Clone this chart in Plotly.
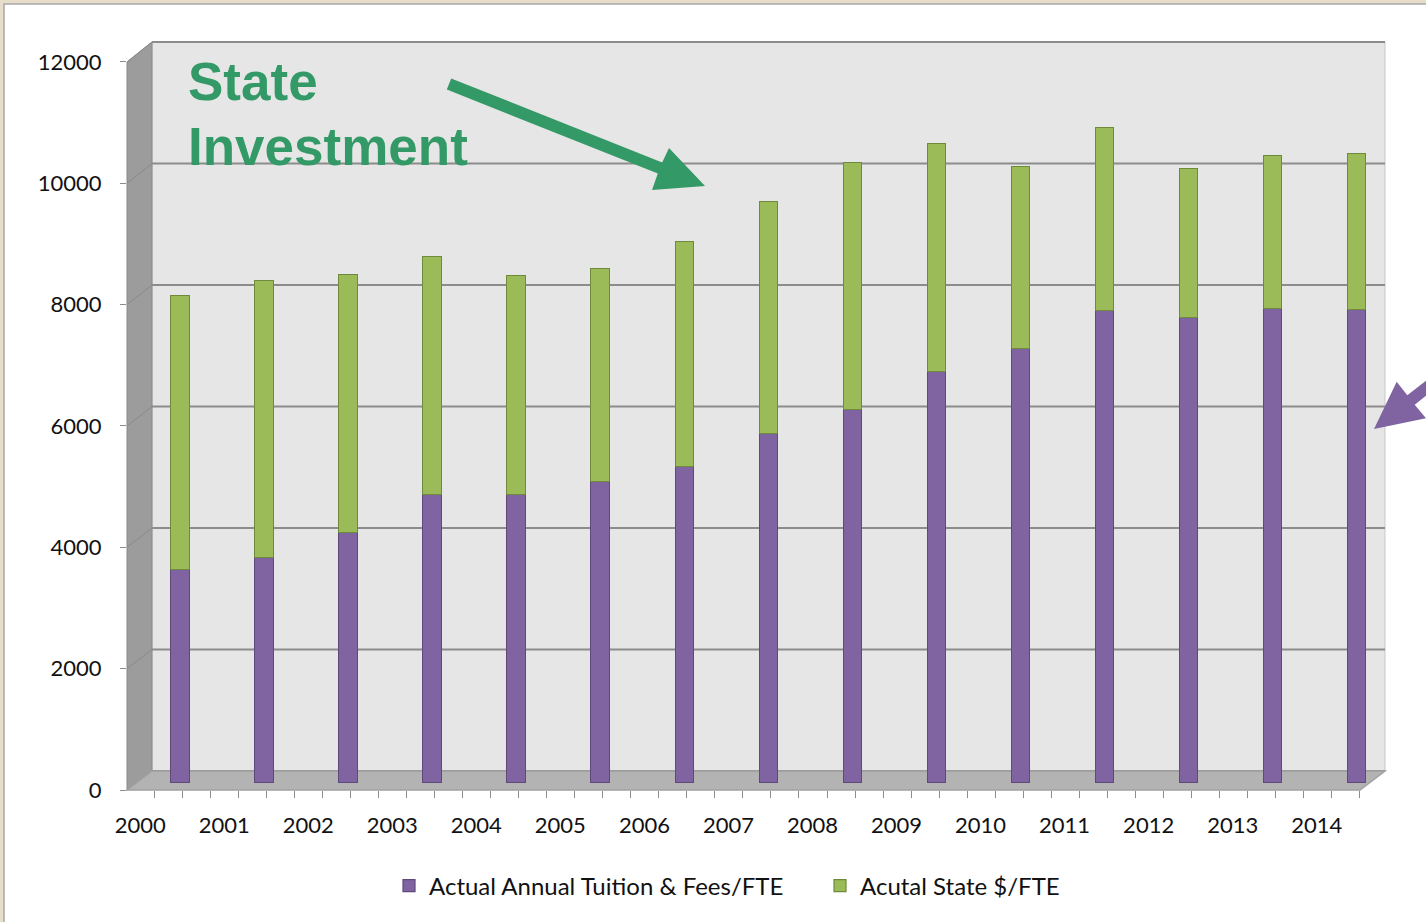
import plotly.graph_objects as go

# ---------------- data ----------------
years = ["2000", "2001", "2002", "2003", "2004", "2005", "2006", "2007",
         "2008", "2009", "2010", "2011", "2012", "2013", "2014"]
tuition = [3500, 3700, 4110, 4740, 4740, 4960, 5200, 5745,
           6140, 6770, 7145, 7770, 7650, 7805, 7790]
state = [4515, 4570, 4260, 3915, 3615, 3500, 3715, 3825,
         4065, 3750, 2995, 3010, 2455, 2520, 2565]
y_ticks = [0, 2000, 4000, 6000, 8000, 10000, 12000]
series_names = ["Actual Annual Tuition & Fees/FTE", "Acutal State $/FTE"]
annotation_lines = ["State", "Investment"]

# ---------------- styling / geometry ----------------
W, H = 1426, 922
L, R, T, B = 127, 1385, 42, 790          # plot area in px
PURPLE, PURPLE_D = "#8064A2", "#5F497A"
GREEN, GREEN_D = "#9BBB59", "#6E8A3A"
ARROW_GREEN = "#339966"
FONT = "Lato, 'Open Sans', sans-serif"

cat_px = 84.04                            # px per category
first_center = 180.5                      # px of first bar centre
x_lo = -(first_center - L) / cat_px
x_hi = x_lo + (R - L) / cat_px

bar_zero_px = 782.7
px_per_unit = 0.0607
y_lo = -(B - bar_zero_px) / px_per_unit
y_hi = y_lo + (B - T) / px_per_unit


def px(xp):
    return (xp - L) / (R - L)


def py(yp):
    return (B - yp) / (B - T)


def y_front(v):
    return 790 - v * 0.06067


def y_back(v):
    return 771 - v * 0.06075


def to_path(points):
    s = "M " + " L ".join(f"{px(a):.5f},{py(b):.5f}" for a, b in points) + " Z"
    return s


xs = list(range(len(years)))

fig = go.Figure()
fig.add_trace(go.Bar(x=xs, y=tuition, name=series_names[0], width=0.22,
                     marker=dict(color=PURPLE, line=dict(color=PURPLE_D, width=1.2))))
fig.add_trace(go.Bar(x=xs, y=state, name=series_names[1], width=0.22,
                     marker=dict(color=GREEN, line=dict(color=GREEN_D, width=1.2))))

shapes = []
# white panel on beige page
shapes.append(dict(type="rect", xref="paper", yref="paper", layer="below",
                   x0=px(4), y0=py(4), x1=px(1440), y1=py(940),
                   fillcolor="white", line=dict(color="#A8A8A8", width=1.5)))
# back wall
shapes.append(dict(type="rect", xref="paper", yref="paper", layer="below",
                   x0=px(152), y0=py(771), x1=px(1385), y1=py(42),
                   fillcolor="#E6E6E6", line=dict(color="#C8C8C8", width=1)))
# back-wall grid lines
for v in y_ticks:
    shapes.append(dict(type="line", xref="paper", yref="paper", layer="below",
                       x0=px(152), x1=px(1385), y0=py(y_back(v)), y1=py(y_back(v)),
                       line=dict(color="#8C8C8C", width=2)))
# side wall
shapes.append(dict(type="path", xref="paper", yref="paper", layer="below",
                   path=to_path([(127, 62), (152, 42), (152, 771), (127, 790)]),
                   fillcolor="#9C9C9C", line=dict(color="#8A8A8A", width=1)))
for v in y_ticks[1:]:
    shapes.append(dict(type="line", xref="paper", yref="paper", layer="below",
                       x0=px(127), x1=px(152), y0=py(y_front(v)), y1=py(y_back(v)),
                       line=dict(color="#8A8A8A", width=1)))
# floor
shapes.append(dict(type="path", xref="paper", yref="paper", layer="below",
                   path=to_path([(127, 790), (152, 771), (1385, 771), (1360, 790)]),
                   fillcolor="#B3B3B3", line=dict(color="#A0A0A0", width=1.5)))
# green arrow
shapes.append(dict(type="path", xref="paper", yref="paper", layer="above",
                   path=to_path([(451.2, 78.4), (662.2, 162.4), (669, 148), (705, 186),
                                 (652, 190), (657.8, 173.6), (446.8, 89.6)]),
                   fillcolor=ARROW_GREEN, line=dict(width=0)))
# purple arrow (right edge)
shapes.append(dict(type="path", xref="paper", yref="paper", layer="above",
                   path=to_path([(1374, 429), (1396.7, 381.7), (1407.3, 395.3), (1486, 333.6),
                                 (1493.4, 343), (1414.7, 404.7), (1426, 418.3)]),
                   fillcolor=PURPLE, line=dict(width=0)))

annotations = [
    dict(text=f"<b>{annotation_lines[0]}</b>", xref="paper", yref="paper",
         x=px(186), y=py(81), xanchor="left", yanchor="middle", showarrow=False,
         font=dict(family="'Liberation Sans', Arial, sans-serif", size=53, color=ARROW_GREEN)),
    dict(text=f"<b>{annotation_lines[1]}</b>", xref="paper", yref="paper",
         x=px(186), y=py(146), xanchor="left", yanchor="middle", showarrow=False,
         font=dict(family="'Liberation Sans', Arial, sans-serif", size=53, color=ARROW_GREEN)),
]

fig.update_layout(
    width=W, height=H,
    margin=dict(l=L, r=W - R, t=T, b=H - B, pad=0),
    paper_bgcolor="#E6DDCB",
    plot_bgcolor="rgba(0,0,0,0)",
    barmode="stack",
    showlegend=True,
    legend=dict(orientation="h", x=px(389), y=py(886), xanchor="left", yanchor="middle",
                traceorder="normal",
                font=dict(family=FONT, size=24, color="#111"), bgcolor="rgba(0,0,0,0)",
                entrywidth=386, entrywidthmode="pixels"),
    xaxis=dict(range=[x_lo, x_hi], showgrid=False, zeroline=False, showline=False,
               tickmode="array", tickvals=[i - 0.48 for i in xs], ticktext=years,
               ticks="", ticklabelstandoff=20,
               tickfont=dict(family=FONT, size=22, color="#111"),
               minor=dict(ticks="outside", ticklen=7, tickcolor="#8C8C8C",
                          tick0=x_lo - 0.004, dtick=1 / 3, showgrid=False)),
    yaxis=dict(range=[y_lo, y_hi], showgrid=False, zeroline=False, showline=False,
               tickmode="array",
               tickvals=[(bar_zero_px - y_front(v)) / px_per_unit for v in y_ticks],
               ticktext=[str(v) for v in y_ticks],
               ticks="outside", ticklen=6, tickcolor="#8C8C8C", ticklabelstandoff=14,
               tickfont=dict(family=FONT, size=22, color="#111")),
    shapes=shapes,
    annotations=annotations,
    bargap=0,
)

fig.write_html("out.html", config={"displayModeBar": False},
               post_script="document.body.style.margin='0';document.body.style.overflow='hidden';")
